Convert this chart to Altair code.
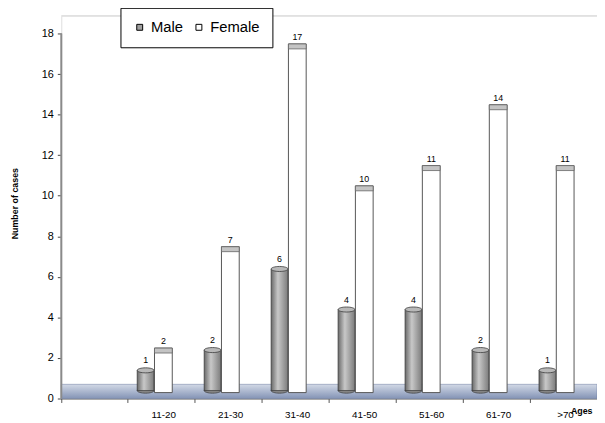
import altair as alt
import pandas as pd

categories = ["11-20", "21-30", "31-40", "41-50", "51-60", "61-70", ">70"]
male = [1, 2, 6, 4, 4, 2, 1]
female = [2, 7, 17, 10, 11, 14, 11]
genders = ["Male", "Female"]
x_domain = [" "] + categories
y_ticks = [0, 2, 4, 6, 8, 10, 12, 14, 16, 18]

rows = []
for c, m, f in zip(categories, male, female):
    rows.append({"age": c, "gender": "Male", "cases": m})
    rows.append({"age": c, "gender": "Female", "cases": f})
df = pd.DataFrame(rows)
one = pd.DataFrame({"k": [0]})

W, H = 543, 388
FONT = "Liberation Sans"
ELL = "M -1 0 A 1 0.3 0 1 0 1 0 A 1 0.3 0 1 0 -1 0 Z"

y_scale = alt.Scale(domain=[0, 18.88], nice=False, zero=True)

x_enc = alt.X(
    "age:N",
    sort=x_domain,
    scale=alt.Scale(domain=x_domain, paddingInner=0, paddingOuter=0),
    axis=alt.Axis(
        title="Ages", titleFontSize=9, titleFontWeight="bold", titleX=527, titleY=12,
        titleAlign="center", titleBaseline="middle", titleAngle=0,
        labelAngle=0, labelFontSize=10, labelPadding=7, labelOffset=2,
        bandPosition=0, tickSize=4, tickColor="#555", domainColor="#666",
        labelColor="#000", titleColor="#000",
    ),
)
xo_enc = alt.XOffset(
    "gender:N",
    scale=alt.Scale(domain=genders, paddingInner=0, paddingOuter=0.885, align=0.27),
)
y_enc = alt.Y(
    "cases:Q",
    scale=y_scale,
    axis=alt.Axis(
        values=y_ticks, domain=False, grid=False, tickSize=4, tickColor="#444",
        labelFontSize=11, labelPadding=4, labelColor="#000",
        title="Number of cases", titleFontSize=9, titleFontWeight="bold",
        titleX=-47, titleY=190, titleAlign="center", titleBaseline="middle", titleColor="#000",
    ),
)

male_grad = alt.Gradient(
    gradient="linear", x1=0, y1=0, x2=1, y2=0,
    stops=[
        alt.GradientStop(offset=0, color="#6a6a6a"),
        alt.GradientStop(offset=0.4, color="#c8c8c8"),
        alt.GradientStop(offset=1, color="#7c7c7c"),
    ],
)
floor_grad = alt.Gradient(
    gradient="linear", x1=0, y1=0, x2=0, y2=1,
    stops=[
        alt.GradientStop(offset=0, color="#d2d9e6"),
        alt.GradientStop(offset=1, color="#8494b6"),
    ],
)

floor = alt.Chart(one).mark_rect(fill=floor_grad, stroke="#6a7aa0", strokeWidth=0.5).encode(
    x=alt.value(0), x2=alt.value(W), y=alt.datum(0), y2=alt.datum(0.7)
)
top_line = alt.Chart(one).mark_rule(color="#dcdcdc", strokeWidth=1).encode(
    x=alt.value(0), x2=alt.value(W), y=alt.value(0)
)
y_line = alt.Chart(one).mark_rule(color="#8a8a8a", strokeWidth=2).encode(
    x=alt.value(0), y=alt.datum(0), y2=alt.datum(18)
)

base = alt.Chart(df)
m = base.transform_filter(alt.datum.gender == "Male")
f = base.transform_filter(alt.datum.gender == "Female")

male_bottom = m.mark_point(
    shape=ELL, filled=True, fill="#8c8c8c", stroke="#3a3a3a", strokeWidth=0.8,
    size=289, opacity=1, yOffset=-8,
).encode(x=x_enc, xOffset=xo_enc, y=alt.datum(0))
male_body = m.mark_bar(
    width=17, color=male_grad, stroke="#3a3a3a", strokeWidth=0.8, yOffset=-8, y2Offset=-8
).encode(x=x_enc, xOffset=xo_enc, y=y_enc, y2=alt.datum(0))
male_top = m.mark_point(
    shape=ELL, filled=True, fill="#b8b8b8", stroke="#3a3a3a", strokeWidth=0.8,
    size=289, opacity=1, yOffset=-8,
).encode(x=x_enc, xOffset=xo_enc, y=y_enc)

fem_body = f.mark_bar(
    width=18, fill="#ffffff", stroke="#555", strokeWidth=1, yOffset=-10, y2Offset=-6
).encode(x=x_enc, xOffset=xo_enc, y=y_enc, y2=alt.datum(0))
fem_top = f.mark_bar(
    width=18, fill="#c4c4c4", stroke="#666", strokeWidth=0.8, yOffset=-10, y2Offset=-5
).encode(x=x_enc, xOffset=xo_enc, y=y_enc, y2=alt.Y2("cases:Q"))

male_lbl = m.mark_text(fontSize=9, font=FONT, dy=-15, baseline="alphabetic", color="#000").encode(
    x=x_enc, xOffset=xo_enc, y=y_enc, text="cases:Q"
)
fem_lbl = f.mark_text(fontSize=9, font=FONT, dy=-14, baseline="alphabetic", color="#000").encode(
    x=x_enc, xOffset=xo_enc, y=y_enc, text="cases:Q"
)

legend_layer = base.mark_square(opacity=0).encode(
    x=x_enc, xOffset=xo_enc, y=y_enc,
    color=alt.Color(
        "gender:N",
        scale=alt.Scale(domain=genders, range=["#a0a0a0", "#ffffff"]),
        legend=alt.Legend(
            title=None, orient="none", legendX=60, legendY=-8, direction="horizontal",
            symbolType="square", symbolSize=36, symbolOpacity=1,
            symbolStrokeColor="#000", symbolStrokeWidth=1,
            labelFontSize=15, labelFont=FONT, labelOffset=4, columnPadding=8,
            padding=12, strokeColor="#000",
            fillColor="#fff", labelColor="#000",
        ),
    ),
)

chart = alt.layer(
    floor, top_line, legend_layer, male_bottom, male_body, male_top, fem_body, fem_top,
    male_lbl, fem_lbl, y_line,
).properties(
    width=W, height=H, autosize="none",
    padding={"left": 54, "top": 5, "right": 0, "bottom": 22},
).configure_view(stroke=None).configure_axis(
    labelFont=FONT, titleFont=FONT
).configure_text(font=FONT).configure(background="#ffffff")

chart.save("out.html", embed_options={"renderer": "svg", "actions": False})
